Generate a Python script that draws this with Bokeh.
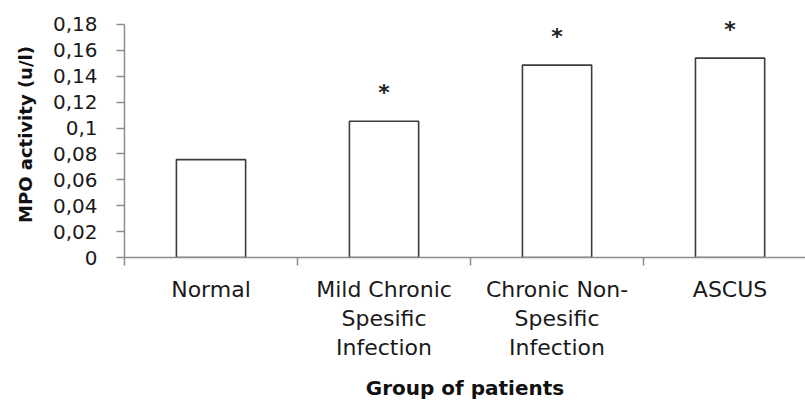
from bokeh.plotting import figure
from bokeh.models import Range1d, FixedTicker, ColumnDataSource
from bokeh.embed import file_html
from bokeh.resources import INLINE
from bokeh.core.properties import value

# ---- data ----
categories = ["Normal", "Mild Chronic\nSpesific\nInfection", "Chronic Non-\nSpesific\nInfection", "ASCUS"]
mpo_values = [0.0756, 0.1052, 0.1486, 0.1540]
significance = ["", "*", "*", "*"]
y_ticks = [0.0, 0.02, 0.04, 0.06, 0.08, 0.1, 0.12, 0.14, 0.16, 0.18]
y_tick_labels = ["0", "0,02", "0,04", "0,06", "0,08", "0,1", "0,12", "0,14", "0,16", "0,18"]
y_title = "MPO activity (u/l)"
x_title = "Group of patients"

x_pos = [i + 0.5 for i in range(len(categories))]
src = ColumnDataSource(dict(x=x_pos, top=mpo_values, star=significance))

p = figure(width=805, height=403, output_backend="svg", toolbar_location=None,
           x_range=Range1d(0, 3.936), y_range=Range1d(0, 0.19),
           min_border_left=124, min_border_right=0, min_border_top=11, min_border_bottom=0)
p.outline_line_color = None
p.grid.visible = False
p.background_fill_color = "white"
p.border_fill_color = "white"

p.vbar(x="x", top="top", bottom=0, width=0.4, source=src,
       fill_color="white", line_color="#3c3c3c", line_width=1.6)
p.text(x="x", y="top", text="star", source=src, y_offset=-29,
       text_align="center", text_baseline="middle",
       text_font=value("DejaVu Sans"), text_font_size="22px", text_font_style="bold",
       text_color="#222222")

axis_col = "#8c8c8c"
font = "DejaVu Sans"

# x axis
xa = p.xaxis[0]
xa.ticker = FixedTicker(ticks=x_pos, minor_ticks=[0, 1, 2, 3, 4])
xa.major_label_overrides = {x: c for x, c in zip(x_pos, categories)}
xa.major_tick_out = 0
xa.major_tick_in = 0
xa.minor_tick_out = 8
xa.minor_tick_in = 0
xa.minor_tick_line_color = axis_col
xa.minor_tick_line_width = 1.5
xa.axis_line_color = axis_col
xa.axis_line_width = 1.5
xa.major_label_text_font = font
xa.major_label_text_font_size = "22px"
xa.major_label_text_color = "#1a1a1a"
xa.major_label_text_line_height = 1.17
xa.major_label_standoff = 11
xa.axis_label = x_title
xa.axis_label_text_font = font
xa.axis_label_text_font_style = "bold"
xa.axis_label_text_font_size = "20px"
xa.axis_label_text_color = "#111111"
xa.axis_label_standoff = 13

# y axis
ya = p.yaxis[0]
ya.ticker = FixedTicker(ticks=y_ticks, minor_ticks=[])
ya.bounds = (0, 0.18)
ya.major_label_overrides = {t: l for t, l in zip(y_ticks, y_tick_labels)}
ya.major_tick_out = 8
ya.major_tick_in = 0
ya.major_tick_line_color = axis_col
ya.major_tick_line_width = 1.5
ya.axis_line_color = axis_col
ya.axis_line_width = 1.5
ya.major_label_text_font = font
ya.major_label_text_font_size = "20px"
ya.major_label_text_color = "#1a1a1a"
ya.major_label_standoff = 19
ya.axis_label = y_title
ya.axis_label_text_font = font
ya.axis_label_text_font_style = "bold"
ya.axis_label_text_font_size = "18px"
ya.axis_label_text_color = "#111111"
ya.axis_label_standoff = 14

open("out.html", "w").write(file_html(p, INLINE))
